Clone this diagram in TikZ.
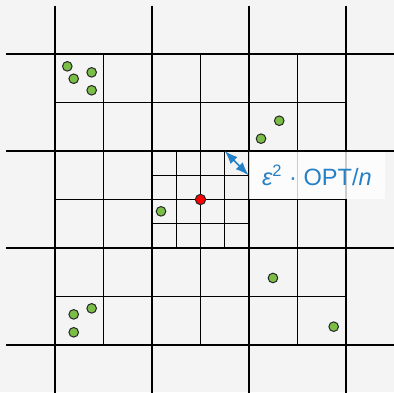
\documentclass[tikz,border=0pt]{standalone}
\usepackage{fontspec}
\setsansfont{Liberation Sans}
\usetikzlibrary{arrows.meta}

\definecolor{bggray}{RGB}{244,244,244}
\definecolor{ptgreen}{RGB}{122,190,72}
\definecolor{epsblue}{RGB}{38,128,198}

\tikzset{
  coarse/.style={line width=0.55pt, black},
  fine/.style={line width=0.45pt, black},
  pt/.style={circle, draw=black!85, line width=0.5pt, fill=ptgreen,
    minimum size=4.8pt, inner sep=0pt},
  query/.style={pt, fill=red, minimum size=5.2pt},
  lblbox/.style={fill=white, fill opacity=0.8, text opacity=1,
    minimum width=67.9pt, minimum height=23.5pt, inner sep=0pt,
    text=epsblue, font=\sffamily\fontsize{11.8}{13}\selectfont}
}

\begin{document}
\begin{tikzpicture}[x=48.5pt, y=-48.5pt, >=Latex]
  \fill[bggray] (-0.567,-0.557) rectangle (3.495,3.485);
  \useasboundingbox (-0.567,-0.557) rectangle (3.495,3.485);

  % coarse grid, running out past the border
  \foreach \i in {0,1,2,3} {
    \draw[coarse] (\i,-0.5) -- (\i,3.5);
    \draw[coarse] (-0.5,\i) -- (3.5,\i);
  }
  % one level finer inside
  \foreach \i in {0.5,1.5,2.5} {
    \draw[fine] (\i,0) -- (\i,3);
    \draw[fine] (0,\i) -- (3,\i);
  }
  % finest level in the middle cell
  \foreach \i in {1.25,1.75} {
    \draw[fine] (\i,1) -- (\i,2);
    \draw[fine] (1,\i) -- (2,\i);
  }

  % points
  \foreach \x/\y [count=\k] in {0.127/0.127, 0.193/0.255, 0.378/0.189,
      0.378/0.374, 2.312/0.688, 2.124/0.873, 1.093/1.622, 0.378/2.622,
      0.193/2.684, 0.193/2.869, 2.247/2.309, 2.873/2.811}
    \node[pt] (p\k) at (\x,\y) {};
  \node[query] (c) at (1.5,1.5) {};

  \node[lblbox] (lbl) at (2.7,1.25)
    {\itshape ε\textsuperscript{\upshape 2}\upshape\ ·\ OPT/\textit{n}};
  \coordinate (ta) at (1.75,1);
  \draw[<->, epsblue, line width=0.8pt] (ta) -- (lbl.west);
\end{tikzpicture}
\end{document}
